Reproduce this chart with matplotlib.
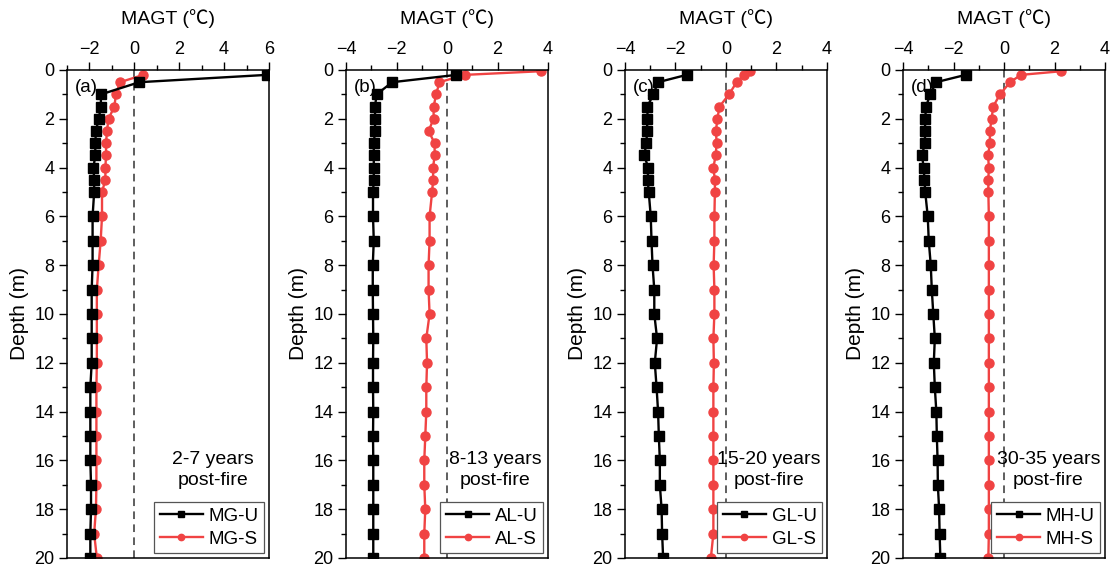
import matplotlib
matplotlib.use("Agg")
import matplotlib.pyplot as plt
from matplotlib.ticker import MultipleLocator

plt.rcParams['font.family'] = ['Liberation Sans', 'Noto Sans CJK SC', 'DejaVu Sans']

# depths (m)
depth_u = [0.2, 0.5, 1, 1.5, 2, 2.5, 3, 3.5, 4, 4.5, 5, 6, 7, 8, 9, 10,
           11, 12, 13, 14, 15, 16, 17, 18, 19, 20]
depth_s_a = depth_u
depth_s = [0.05] + depth_u

# (a) MG, 2-7 years
mg_u = [5.9, 0.22, -1.49, -1.49, -1.59, -1.71, -1.74, -1.74, -1.82, -1.79,
        -1.79, -1.86, -1.86, -1.86, -1.9, -1.9, -1.9, -1.9, -1.96, -1.96,
        -1.96, -1.96, -1.93, -1.93, -1.96, -1.96]
mg_s = [0.4, -0.64, -0.82, -0.89, -1.15, -1.22, -1.26, -1.26, -1.29, -1.29,
        -1.44, -1.44, -1.5, -1.59, -1.67, -1.67, -1.67, -1.67, -1.69, -1.69,
        -1.69, -1.69, -1.69, -1.71, -1.79, -1.67]

# (b) AL, 8-13 years
al_u = [0.37, -2.17, -2.79, -2.85, -2.85, -2.85, -2.9, -2.9, -2.9, -2.9,
        -2.93, -2.93, -2.9, -2.94, -2.94, -2.93, -2.92, -2.93, -2.93, -2.92,
        -2.93, -2.92, -2.92, -2.92, -2.92, -2.92]
al_s = [3.71, 0.7, -0.3, -0.43, -0.53, -0.53, -0.73, -0.49, -0.49, -0.55,
        -0.55, -0.59, -0.69, -0.69, -0.73, -0.73, -0.69, -0.82, -0.79, -0.82,
        -0.82, -0.86, -0.9, -0.9, -0.86, -0.9, -0.9]

# (c) GL, 15-20 years
gl_u = [-1.56, -2.69, -2.88, -3.11, -3.11, -3.13, -3.15, -3.24, -3.08, -3.1,
        -3.06, -2.98, -2.95, -2.91, -2.84, -2.84, -2.73, -2.82, -2.75, -2.69,
        -2.66, -2.62, -2.62, -2.55, -2.53, -2.49]
gl_s = [0.95, 0.71, 0.42, 0.12, -0.26, -0.34, -0.4, -0.37, -0.41, -0.5,
        -0.44, -0.44, -0.46, -0.46, -0.49, -0.46, -0.46, -0.5, -0.48, -0.5,
        -0.5, -0.5, -0.5, -0.5, -0.5, -0.5, -0.6]

# (d) MH, 30-35 years
mh_u = [-1.52, -2.69, -2.92, -3.09, -3.12, -3.13, -3.13, -3.25, -3.18, -3.15,
        -3.12, -3.02, -2.98, -2.9, -2.86, -2.8, -2.74, -2.78, -2.74, -2.68,
        -2.66, -2.63, -2.62, -2.57, -2.55, -2.52]
mh_s = [2.27, 0.67, 0.24, -0.16, -0.43, -0.49, -0.56, -0.56, -0.63, -0.6,
        -0.62, -0.62, -0.6, -0.6, -0.6, -0.6, -0.6, -0.6, -0.6, -0.6,
        -0.6, -0.6, -0.6, -0.6, -0.6, -0.6, -0.62]

panels = [
    ("(a)", "MG-U", "MG-S", mg_u, mg_s, depth_s_a, (-3, 6), "2-7 years\npost-fire", 0.724),
    ("(b)", "AL-U", "AL-S", al_u, al_s, depth_s, (-4, 4), "8-13 years\npost-fire", 0.738),
    ("(c)", "GL-U", "GL-S", gl_u, gl_s, depth_s, (-4, 4), "15-20 years\npost-fire", 0.713),
    ("(d)", "MH-U", "MH-S", mh_u, mh_s, depth_s, (-4, 4), "30-35 years\npost-fire", 0.72),
]

red = "#F04343"
fig = plt.figure(figsize=(11.12, 5.64), dpi=100)
lefts = [67, 346, 625, 903]

for i, (tag, lab_u, lab_s, u, s, ds, xlim, note, nx) in enumerate(panels):
    ax = fig.add_axes([lefts[i] / 1112, 6 / 564, 202 / 1112, 488 / 564])
    ax.axvline(0, color="#333333", lw=1.1, ls=(0, (5, 3.5)), zorder=1)
    ax.plot(u, depth_u, color="black", lw=1.7, marker="s", ms=6.5,
            label=lab_u, zorder=3)
    ax.plot(s, ds, color=red, lw=1.7, marker="o", ms=6.5,
            label=lab_s, zorder=2)
    ax.set_xlim(*xlim)
    ax.set_ylim(20, 0)
    ax.xaxis.tick_top()
    ax.xaxis.set_label_position("top")
    ax.xaxis.set_major_locator(MultipleLocator(2))
    ax.xaxis.set_minor_locator(MultipleLocator(1))
    ax.yaxis.set_major_locator(MultipleLocator(2))
    ax.yaxis.set_minor_locator(MultipleLocator(1))
    ax.tick_params(which="major", direction="out", length=6, width=1,
                   labelsize=13, pad=3)
    ax.tick_params(which="minor", direction="out", length=3.5, width=1)
    for sp in ax.spines.values():
        sp.set_linewidth(1.1)
    ax.set_xlabel("MAGT (℃)", fontsize=14, labelpad=12)
    ax.set_ylabel("Depth (m)", fontsize=15, labelpad=4)
    ax.text(0.04, 0.965, tag, transform=ax.transAxes, fontsize=13.5,
            ha="left", va="center")
    ax.text(nx, 0.18, note, transform=ax.transAxes, fontsize=14,
            ha="center", va="center", linespacing=1.35)
    leg = ax.legend(loc="lower right", fontsize=13.5, frameon=True,
                    fancybox=False, edgecolor="#555555", framealpha=1,
                    handlelength=2.3, handletextpad=0.3, borderpad=0.3,
                    labelspacing=0.3, borderaxespad=0.25, markerscale=0.7)
    leg.get_frame().set_linewidth(0.9)

fig.savefig("out.png", dpi=100)
